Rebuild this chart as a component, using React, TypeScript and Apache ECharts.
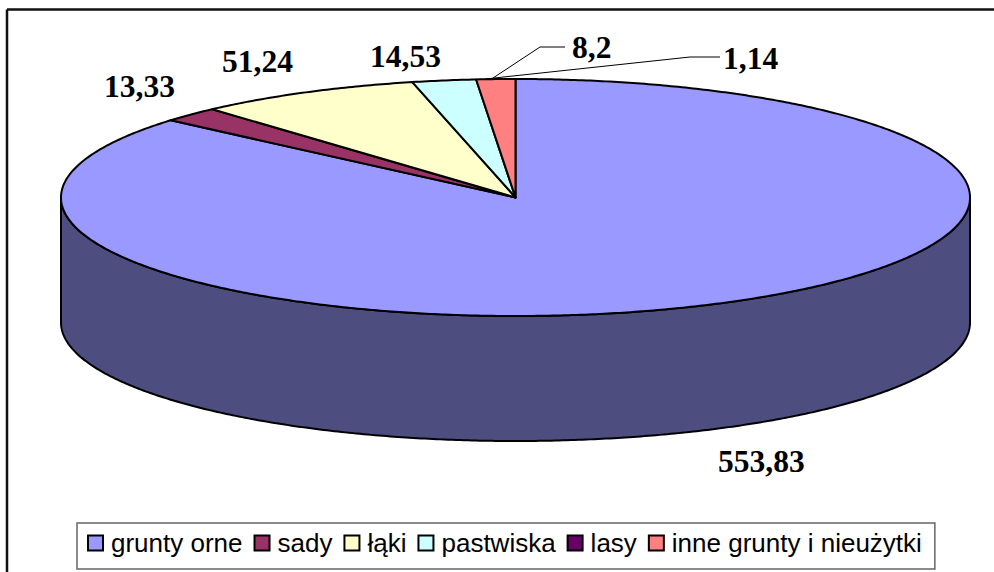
import React, { useEffect, useRef } from "react";
import * as echarts from "echarts";

const categories = ["grunty orne", "sady", "łąki", "pastwiska", "lasy", "inne grunty i nieużytki"];
// Printed data labels, as written on the chart.
const labelTexts = ["553,83", "13,33", "51,24", "14,53", "1,14", "8,2"];
// Slice sizes; the "lasy" sliver cannot be seen in the pie.
const sliceValues = [553.83, 13.33, 51.24, 14.53, 0, 8.86];
const sliceColors = ["#9999FF", "#993366", "#FFFFCC", "#CCFFFF", "#660066", "#FF8080"];
const wallColors = ["#4D4D80", "#4D1A33", "#808066", "#668080", "#330033", "#804040"];

const CX = 515.5;
const CY = 197.5;
const RX = 454.5;
const RY = 118.5;
const DEPTH = 125;

const total = sliceValues.reduce((a, b) => a + b, 0);
const rim = (deg: number, dy = 0): number[] => {
  const t = (deg * Math.PI) / 180;
  return [CX + RX * Math.sin(t), CY - RY * Math.cos(t) + dy];
};
const arcPoints = (from: number, to: number, dy = 0): number[][] => {
  const pts: number[][] = [];
  const n = Math.max(2, Math.ceil(Math.abs(to - from) * 2));
  for (let i = 0; i <= n; i++) pts.push(rim(from + ((to - from) * i) / n, dy));
  return pts;
};

const renderSlice = (color: string, wall: string) => (_p: any, api: any) => {
  const start = api.value(0);
  const end = api.value(1);
  const children: any[] = [];
  const wallFrom = Math.max(start, 90);
  const wallTo = Math.min(end, 270);
  if (wallTo > wallFrom) {
    children.push({
      type: "polygon",
      shape: { points: [...arcPoints(wallFrom, wallTo), ...arcPoints(wallTo, wallFrom, DEPTH)] },
      style: { fill: wall, stroke: "#000", lineWidth: 2, lineJoin: "round" },
    });
  }
  if (end > start) {
    children.push({
      type: "polygon",
      shape: { points: [[CX, CY], ...arcPoints(start, end)] },
      style: { fill: color, stroke: "#000", lineWidth: 2, lineJoin: "round" },
    });
  }
  return { type: "group", children };
};

const buildSeries = () => {
  let acc = 0;
  return categories.map((name, i) => {
    const start = (acc / total) * 360;
    acc += sliceValues[i];
    const end = (acc / total) * 360;
    return {
      type: "custom",
      name,
      coordinateSystem: "none",
      silent: true,
      clip: false,
      itemStyle: { color: sliceColors[i] },
      renderItem: renderSlice(sliceColors[i], wallColors[i]),
      data: [[start, end]],
    };
  });
};

const labelFont = "bold 31.5px 'Liberation Serif'";
const labelAt = (i: number, x: number, y: number) => ({
  type: "text",
  x,
  y,
  z: 20,
  style: {
    text: labelTexts[i],
    font: labelFont,
    fill: "#000",
    textAlign: "left",
    textVerticalAlign: "middle",
  },
});
const leader = (points: number[][]) => ({
  type: "polyline",
  z: 19,
  shape: { points },
  style: { stroke: "#000", lineWidth: 1, fill: "none" },
});
const frame = (x1: number, y1: number, x2: number, y2: number) => ({
  type: "line",
  z: 1,
  shape: { x1, y1, x2, y2 },
  style: { stroke: "#111", lineWidth: 2.5 },
});

export default function App() {
  const ref = useRef<HTMLDivElement>(null);
  useEffect(() => {
    document.body.style.margin = "0";
    const chart = echarts.init(ref.current!, undefined, { renderer: "svg" });
    chart.setOption({
      animation: false,
      backgroundColor: "#fff",
      legend: {
        left: 77,
        top: 523,
        padding: [7, 13, 13, 10],
        width: 858,
        orient: "horizontal",
        selectedMode: false,
        icon: "rect",
        itemWidth: 15,
        itemHeight: 15,
        itemGap: 11,
        borderColor: "#666",
        borderWidth: 1.5,
        backgroundColor: "#fff",
        itemStyle: { borderColor: "#000", borderWidth: 2 },
        textStyle: { fontFamily: "Liberation Sans", fontSize: 26, color: "#000", padding: [0, 0, 0, 3] },
        data: categories,
      },
      series: buildSeries(),
      graphic: [
        frame(7, 9.5, 994, 9.5),
        frame(7, 9.5, 7, 572),
        leader([[493, 78], [540, 47], [565, 47]]),
        leader([[485, 79], [690, 57], [720, 57]]),
        labelAt(0, 718, 461),
        labelAt(1, 104, 86),
        labelAt(2, 222, 61),
        labelAt(3, 370, 56),
        labelAt(5, 572, 47),
        labelAt(4, 723, 58),
      ],
    });
    return () => chart.dispose();
  }, []);
  return <div ref={ref} style={{ position: "absolute", left: 0, top: 0, width: 994, height: 572 }} />;
}
